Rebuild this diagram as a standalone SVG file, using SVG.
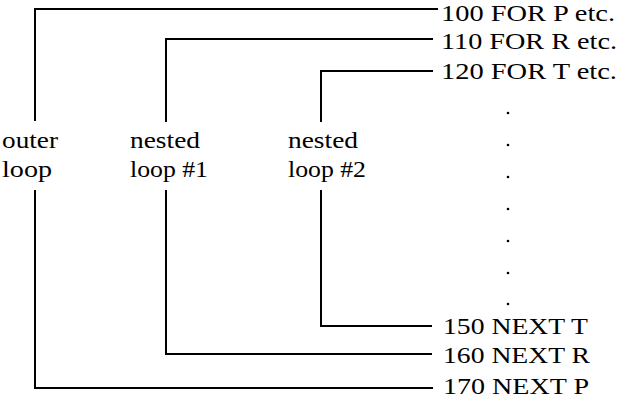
<svg xmlns="http://www.w3.org/2000/svg" width="621" height="408" viewBox="0 0 621 408">
<style>
.ln{fill:none;stroke:#000;stroke-width:2;stroke-linejoin:miter}
.t{font-family:"Liberation Serif","Times New Roman",serif;font-size:23px;fill:#000}
.d{fill:#000}
</style>
<rect width="621" height="408" fill="#fff"/>
<g id="connectors">
<path class="ln" d="M35,121 V9 H438"/>
<path class="ln" d="M35,190 V388 H433"/>
<path class="ln" d="M166,122 V39 H433"/>
<path class="ln" d="M166,190 V354 H432"/>
<path class="ln" d="M321,122 V71 H433"/>
<path class="ln" d="M321,190 V326 H432"/>
</g>
<g id="outer-loop"><text class="t" x="2" y="148" textLength="56" lengthAdjust="spacingAndGlyphs">outer</text><text class="t" x="2" y="177" textLength="50" lengthAdjust="spacingAndGlyphs">loop</text></g>
<g id="nested-loop-1"><text class="t" x="130" y="148" textLength="70" lengthAdjust="spacingAndGlyphs">nested</text><text class="t" x="130" y="177" textLength="78" lengthAdjust="spacingAndGlyphs">loop #1</text></g>
<g id="nested-loop-2"><text class="t" x="288" y="148" textLength="70" lengthAdjust="spacingAndGlyphs">nested</text><text class="t" x="288" y="177" textLength="78" lengthAdjust="spacingAndGlyphs">loop #2</text></g>
<g id="line-100"><text class="t" x="441" y="21" textLength="174" lengthAdjust="spacingAndGlyphs">100 FOR P etc.</text></g>
<g id="line-110"><text class="t" x="441" y="49" textLength="176" lengthAdjust="spacingAndGlyphs">110 FOR R etc.</text></g>
<g id="line-120"><text class="t" x="441" y="79" textLength="176" lengthAdjust="spacingAndGlyphs">120 FOR T etc.</text></g>
<g id="dots">
<circle class="d" cx="508" cy="113" r="1.3"/>
<circle class="d" cx="508" cy="145" r="1.3"/>
<circle class="d" cx="508" cy="177" r="1.3"/>
<circle class="d" cx="508" cy="209" r="1.3"/>
<circle class="d" cx="508" cy="241" r="1.3"/>
<circle class="d" cx="508" cy="273" r="1.3"/>
<circle class="d" cx="508" cy="304" r="1.3"/>
</g>
<g id="line-150"><text class="t" x="443" y="334" textLength="145" lengthAdjust="spacingAndGlyphs">150 NEXT T</text></g>
<g id="line-160"><text class="t" x="443" y="363" textLength="147" lengthAdjust="spacingAndGlyphs">160 NEXT R</text></g>
<g id="line-170"><text class="t" x="443" y="394" textLength="146" lengthAdjust="spacingAndGlyphs">170 NEXT P</text></g>
</svg>
